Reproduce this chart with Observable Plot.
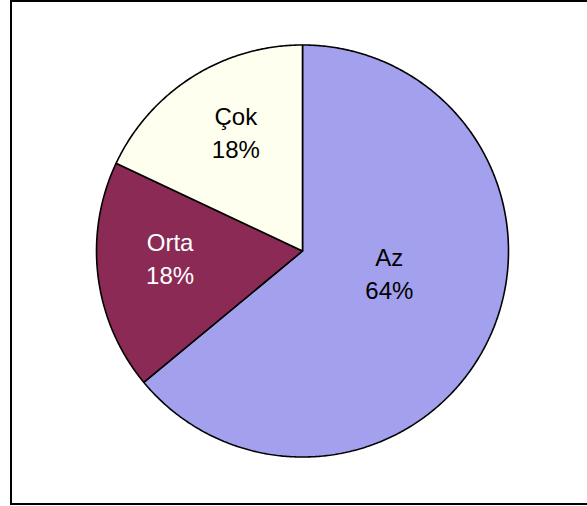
<!DOCTYPE html>
<html>
<head>
<meta charset="utf-8">
<script src="https://cdn.jsdelivr.net/npm/d3@7"></script>
<script src="https://cdn.jsdelivr.net/npm/@observablehq/plot@0.6"></script>
<style>
  html, body { margin: 0; padding: 0; background: #fff; }
  #wrap { position: relative; width: 587px; height: 506px; overflow: hidden; }
  #frame { position: absolute; left: 10px; top: 0px; width: 590px; height: 505px; border: 2px solid #000; box-sizing: border-box; }
  #chart { position: absolute; left: 0; top: 0; }
</style>
</head>
<body>
<div id="wrap"><div id="chart"></div><div id="frame"></div></div>
<script>
// Data
const categories = ["Az", "Orta", "Çok"];
const values = [64, 18, 18];
const colors = ["#a3a0ee", "#8b2a55", "#fffff0"];
const labelColors = ["#000000", "#ffffff", "#000000"];

const total = d3.sum(values);
const pie = d3.pie().sort(null).value(d => d.value)(
  categories.map((name, i) => ({name, value: values[i], fill: colors[i], text: labelColors[i]}))
);

// polygon for each slice in unit-circle coords (y up, angle clockwise from 12 o'clock)
function slicePoints(s) {
  const pts = [{x: 0, y: 0}];
  const n = Math.max(2, Math.ceil((s.endAngle - s.startAngle) / (Math.PI / 360)));
  for (let k = 0; k <= n; k++) {
    const a = s.startAngle + (s.endAngle - s.startAngle) * k / n;
    pts.push({x: Math.sin(a), y: Math.cos(a)});
  }
  pts.push({x: 0, y: 0});
  return pts;
}

const labels = pie.map(s => {
  const mid = (s.startAngle + s.endAngle) / 2;
  const share = s.data.value / total;
  const r = share > 0.5 ? 0.44 : 0.645;
  const a = share > 0.5 ? mid - 0.15 : mid + 0.04;
  return {
    x: r * Math.sin(a),
    y: r * Math.cos(a),
    label: `${s.data.name}\n${Math.round(share * 100)}%`,
    fill: s.data.text
  };
});

const marks = pie.map(s => Plot.line(slicePoints(s), {
  x: "x", y: "y", fill: s.data.fill, stroke: "#000", strokeWidth: 1.6,
  strokeLinejoin: "miter", curve: "linear"
}));
marks.push(Plot.text(labels, {
  x: "x", y: "y", text: "label", fill: "fill",
  fontSize: 24, lineHeight: 1.375, textAnchor: "middle", dy: -5
}));

const chart = Plot.plot({
  width: 587,
  height: 506,
  marginLeft: 96,
  marginRight: 79,
  marginTop: 44.5,
  marginBottom: 49.5,
  x: {domain: [-1, 1], axis: null},
  y: {domain: [-1, 1], axis: null},
  style: {fontFamily: "'Liberation Sans', Arial, Helvetica, sans-serif", background: "transparent", overflow: "visible"},
  marks
});
document.getElementById("chart").appendChild(chart);
</script>
</body>
</html>
